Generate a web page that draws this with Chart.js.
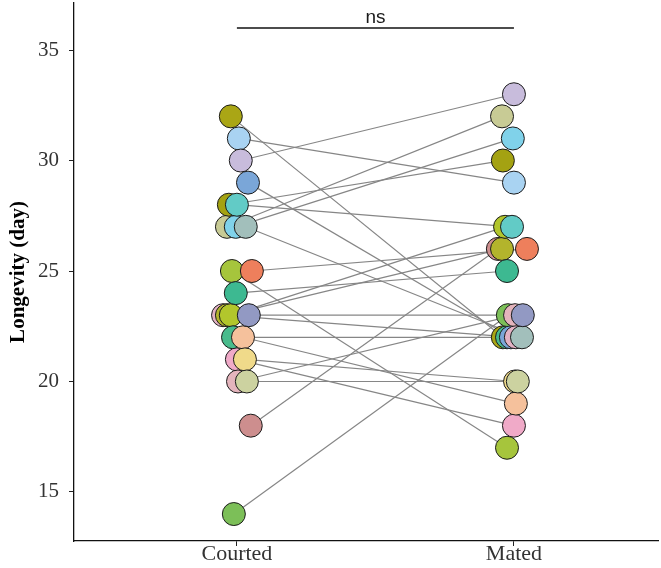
<!DOCTYPE html>
<html>
<head>
<meta charset="utf-8">
<script src="https://cdn.jsdelivr.net/npm/chart.js@4.4.1/dist/chart.umd.min.js"></script>
<style>
  html, body { margin: 0; padding: 0; background: #ffffff; }
  #wrap { width: 661px; height: 568px; position: relative; }
</style>
</head>
<body>
<div id="wrap"><canvas id="c" width="661" height="568"></canvas></div>
<script>
// ---- Data ----
const categories = ['Courted', 'Mated'];
const yTicks = [15, 20, 25, 30, 35];
const yTitle = 'Longevity (day)';
const sigLabel = 'ns';
const sigLevel = 36;

// one entry per individual (paired observation)
const courted = [32, 31, 30, 29, 28, 28, 27, 27, 27, 25, 25, 24, 23, 23, 23, 23, 22, 22, 21, 21, 20, 20, 18, 14];
const mated   = [22, 29, 33, 22, 30, 27, 32, 31, 22, 17, 26, 25, 22, 26, 27, 23, 22, 19, 18, 20, 23, 20, 26, 23];
// horizontal dodge of each point (category units), as seen in the picture
const courtedJitter = [-0.022, 0.007, 0.014, 0.040, -0.029, 0.000, -0.036, -0.004, 0.032, -0.018, 0.054, -0.004, -0.050, -0.036, -0.022, 0.043, -0.014, 0.022, 0.000, 0.029, 0.004, 0.036, 0.050, -0.011];
const matedJitter   = [-0.040, 0.000, 0.000, -0.011, -0.040, -0.007, -0.043, -0.004, 0.029, -0.025, 0.047, -0.025, 0.007, -0.043, -0.032, 0.032, -0.025, 0.007, 0.000, 0.004, 0.004, 0.014, -0.058, -0.022];
const colors = ['#aaa615', '#a9d3f2', '#c8bcdc', '#7aa6d8', '#a4a212', '#62cbc6', '#c8cb95', '#80d2ea',
                '#a2bfbb', '#a6c53c', '#ee7f5c', '#3db991', '#e3b2c4', '#b3b42c', '#b2c62c', '#9299c3',
                '#48bb8c', '#f5c19c', '#f0aac8', '#f0da8a', '#e4b4bc', '#ccd2a0', '#cd8e8e', '#7cbf58'];

// ---- Build datasets ----
const lineSets = courted.map((c, i) => ({
  type: 'line',
  data: [{ x: 1 + courtedJitter[i], y: c }, { x: 2 + matedJitter[i], y: mated[i] }],
  borderColor: '#868686',
  borderWidth: 1.2,
  pointRadius: 0,
  fill: false,
  order: 5
}));

function pointSet(vals, jit, base) {
  const idx = vals.map((v, i) => i).sort((a, b) => jit[a] - jit[b]);
  return {
    type: 'scatter',
    data: idx.map(i => ({ x: base + jit[i], y: vals[i] })),
    backgroundColor: idx.map(i => colors[i]),
    borderColor: '#1b1b1b',
    borderWidth: 1,
    pointRadius: 11.5,
    pointHoverRadius: 11.5,
    order: 1
  };
}

const bracket = {
  type: 'line',
  data: [{ x: 1, y: sigLevel }, { x: 2, y: sigLevel }],
  borderColor: '#111111',
  borderWidth: 1.6,
  pointRadius: 0,
  order: 2
};

const sigPlugin = {
  id: 'sig',
  afterDatasetsDraw(chart) {
    const { ctx, scales: { x, y } } = chart;
    ctx.save();
    ctx.font = '19px "Liberation Sans", Arial, sans-serif';
    ctx.fillStyle = '#1a1a1a';
    ctx.textAlign = 'center';
    ctx.textBaseline = 'alphabetic';
    ctx.fillText(sigLabel, x.getPixelForValue(1.5), y.getPixelForValue(sigLevel) - 5);
    ctx.restore();
  }
};

new Chart(document.getElementById('c'), {
  type: 'scatter',
  data: { datasets: [pointSet(courted, courtedJitter, 1), pointSet(mated, matedJitter, 2), bracket, ...lineSets] },
  plugins: [sigPlugin],
  options: {
    responsive: false,
    animation: false,
    events: [],
    layout: { autoPadding: false, padding: { top: 3, right: 3, left: 0, bottom: 0 } },
    plugins: { legend: { display: false }, tooltip: { enabled: false } },
    scales: {
      x: {
        type: 'linear',
        min: 0.412,
        max: 2.52,
        afterBuildTicks: s => { s.ticks = categories.map((c, i) => ({ value: i + 1 })); },
        afterFit: s => { s.height = 27; s.paddingLeft = 0; s.paddingRight = 0; },
        ticks: {
          callback: v => categories[v - 1] || '',
          font: { family: '"Liberation Serif", "Times New Roman", serif', size: 22 },
          color: '#333333',
          padding: -5,
          maxRotation: 0
        },
        grid: { drawOnChartArea: false, drawTicks: true, tickLength: 5, color: '#222222', lineWidth: 1 },
        border: { display: true, color: '#111111', width: 1.3 }
      },
      y: {
        type: 'linear',
        min: 12.78,
        max: 37.13,
        afterBuildTicks: s => { s.ticks = yTicks.map(v => ({ value: v })); },
        afterFit: s => { s.width = 74; s.paddingTop = 0; s.paddingBottom = 0; },
        ticks: {
          font: { family: '"Liberation Serif", "Times New Roman", serif', size: 21 },
          color: '#333333',
          padding: 10
        },
        title: {
          display: true,
          text: yTitle,
          font: { family: '"Liberation Serif", "Times New Roman", serif', size: 21, weight: 'bold' },
          color: '#000000',
          padding: { top: 6, bottom: 0 }
        },
        grid: { drawOnChartArea: false, drawTicks: true, tickLength: 5, color: '#222222', lineWidth: 1 },
        border: { display: true, color: '#111111', width: 1.3 }
      }
    }
  }
});
</script>
</body>
</html>
